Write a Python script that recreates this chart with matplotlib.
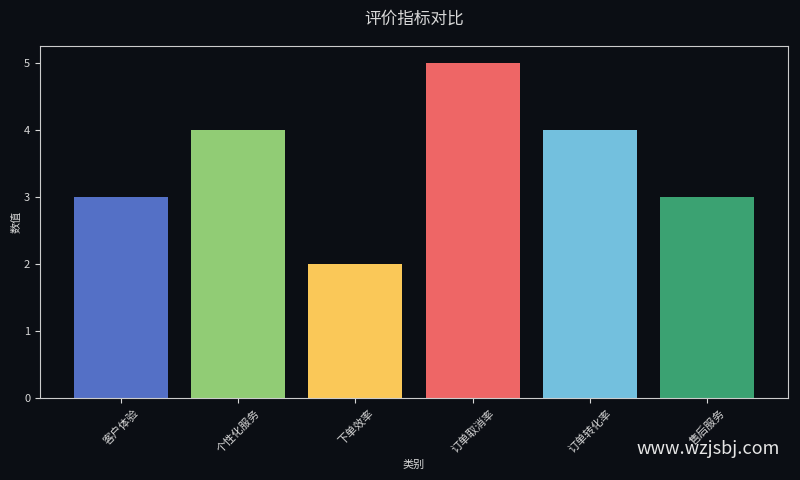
import matplotlib
matplotlib.use("Agg")
import matplotlib.pyplot as plt

plt.rcParams['font.family'] = ['Noto Sans CJK SC', 'DejaVu Sans']

categories = ['客户体验', '个性化服务', '下单效率', '订单取消率', '订单转化率', '售后服务']
values = [3, 4, 2, 5, 4, 3]
colors = ['#5470c6', '#91cc75', '#fac858', '#ee6666', '#73c0de', '#3ba272']

bg = '#0b0e14'
fg = '#d8d8d8'

fig = plt.figure(figsize=(8, 4.8), dpi=100, facecolor=bg)
ax = fig.add_axes([0.05, 0.171, 0.935, 0.733], facecolor=bg)

ax.bar(range(len(categories)), values, width=0.8, color=colors)
ax.set_xticks(range(len(categories)))
ax.set_xticklabels(categories, rotation=45, fontsize=8, color=fg)
ax.set_yticks([0, 1, 2, 3, 4, 5])
ax.tick_params(axis='y', labelsize=8, colors=fg)
ax.tick_params(axis='x', colors=fg)
ax.set_ylim(0, 5.25)
for s in ax.spines.values():
    s.set_color('#cccccc')
ax.set_xlabel('类别', fontsize=8, color=fg)
ax.set_ylabel('数值', fontsize=8, color=fg, labelpad=2)
ax.set_title('评价指标对比', fontsize=12, color=fg, pad=16)
fig.text(0.975, 0.065, 'www.wzjsbj.com', fontsize=13, color='#e6e6e6', ha='right', va='center')

fig.savefig('out.png', dpi=100, facecolor=bg)
